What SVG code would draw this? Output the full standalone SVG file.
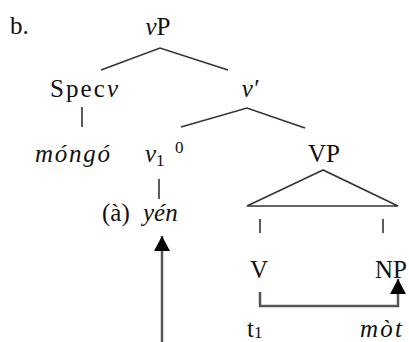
<svg xmlns="http://www.w3.org/2000/svg" width="409" height="342" viewBox="0 0 409 342">
<style>
text{font-family:"Liberation Serif","DejaVu Serif",serif;font-size:25px;fill:#111}
.i{font-style:italic}
.sm{font-size:17px}
.ln{stroke:#333;stroke-width:1.6;fill:none}
.ar{stroke:#555;stroke-width:2.5;fill:none}
</style>
<defs>
<marker id="head" markerUnits="userSpaceOnUse" markerWidth="16" markerHeight="16" refX="15" refY="8" orient="auto" viewBox="0 0 16 16">
<path d="M0,0 L15,8 L0,16 z" fill="#000"/>
</marker>
</defs>
<rect width="409" height="342" fill="#fff"/>
<text id="label-b" x="10" y="34">b.</text>
<g id="node-vP"><text x="158" y="35" text-anchor="middle"><tspan class="i">v</tspan>P</text></g>
<g id="node-Specv"><text x="50" y="97" textLength="68"><tspan>Spec</tspan><tspan class="i">v</tspan></text></g>
<g id="node-vbar"><text x="250" y="97" text-anchor="middle" class="i">v′</text></g>
<g id="node-mongo"><text x="35" y="162" class="i" textLength="75">móngó</text></g>
<g id="node-v1"><text x="145" y="162"><tspan class="i">v</tspan><tspan class="sm" dy="4">1</tspan><tspan class="sm" x="175" dy="-13">0</tspan></text></g>
<g id="node-VP"><text x="324" y="162" text-anchor="middle">VP</text></g>
<g id="node-yen"><text x="102" y="221">(à) <tspan class="i" x="143">yén</tspan></text></g>
<g id="node-V"><text x="259" y="278" text-anchor="middle">V</text></g>
<g id="node-NP"><text x="391" y="278" text-anchor="middle">NP</text></g>
<g id="node-t1"><text x="247" y="337">t<tspan class="sm" dy="1">1</tspan></text></g>
<g id="node-mot"><text x="360" y="337" class="i" textLength="42">mòt</text></g>
<g id="connectors">
<polyline class="ln" points="101,70 160,48 228,70"/>
<line class="ln" x1="82" y1="107" x2="82" y2="127"/>
<polyline class="ln" points="181,127 247,108 305,128"/>
<line class="ln" x1="159" y1="179" x2="159" y2="199"/>
<polygon class="ln" points="323,170 247,206 398,206"/>
<line class="ln" x1="260" y1="219" x2="260" y2="233"/>
<line class="ln" x1="383" y1="219" x2="383" y2="233"/>
<polyline class="ar" points="260,292 260,306 398,306 398,279" marker-end="url(#head)"/>
<line class="ar" x1="162" y1="342" x2="162" y2="236" marker-end="url(#head)"/>
</g>
</svg>
